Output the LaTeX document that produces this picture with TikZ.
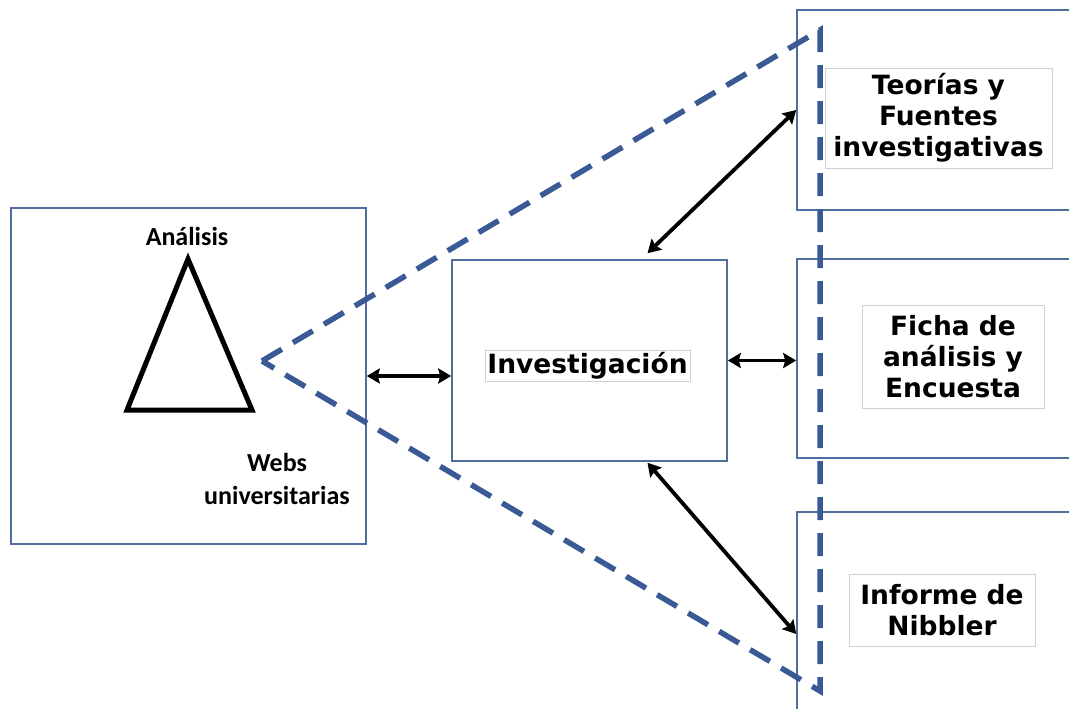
\documentclass[tikz,border=0pt]{standalone}
\usepackage{fontspec}
\setmainfont{DejaVu Sans}
\newfontfamily\carlito{Carlito}
\usetikzlibrary{arrows.meta,calc}
\definecolor{boxblue}{HTML}{4E6E9E}
\definecolor{dashblue}{HTML}{3A5A96}
\definecolor{framegray}{HTML}{D0D0D0}
\begin{document}
\begin{tikzpicture}[x=1pt,y=-1pt,
  bigbox/.style={draw=boxblue,line width=1.6pt,rectangle,inner sep=0pt},
  txtframe/.style={draw=framegray,line width=0.8pt,rectangle,inner sep=0pt,fill=white},
  boldtxt/.style={font=\fontsize{26.5}{31}\selectfont\bfseries,align=center,inner sep=0pt},
  sidetxt/.style={font=\carlito\fontsize{26}{33}\selectfont\bfseries,align=center,inner sep=0pt},
  dbl/.style={line width=3.8pt,{Stealth[length=13pt,width=15pt,inset=2pt]}-{Stealth[length=13pt,width=15pt,inset=2pt]}},
  dashline/.style={draw=dashblue,line width=5.5pt,dash pattern=on 23pt off 13pt}
]
\useasboundingbox (0,0) rectangle (1069,709);
\clip (0,0) rectangle (1069,709);
\fill[white] (0,0) rectangle (1069,709);

% boxes
\node[bigbox,minimum width=355pt,minimum height=336pt] (left) at (188.5,376) {};
\node[bigbox,minimum width=275pt,minimum height=201pt] (inv) at (589.5,360.5) {};
\node[bigbox,minimum width=283pt,minimum height=200pt] (r1) at (938.5,110) {};
\node[bigbox,minimum width=283pt,minimum height=199pt] (r2) at (938.5,358.5) {};
\node[bigbox,minimum width=283pt,minimum height=208pt] (r3) at (938.5,616) {};

% dashed triangle
\coordinate (apex) at (262,361);
\coordinate (tc) at (820,30);
\coordinate (bc) at (820,691);
\draw[dashline] (apex) -- (tc) -- (bc) -- cycle;

% text frames
\node[txtframe,minimum width=227pt,minimum height=100pt] (f1) at (938.5,118) {};
\node[txtframe,minimum width=182pt,minimum height=103pt] (f2) at (953,356.5) {};
\node[txtframe,minimum width=186pt,minimum height=72pt] (f3) at (942,610) {};
\node[txtframe,minimum width=205pt,minimum height=31pt] (finv) at (587.5,365.5) {};

\node[boldtxt] (t1) at (f1) {Teorías y\\Fuentes\\investigativas};
\node[boldtxt] (t2) at (f2) {Ficha de\\análisis y\\Encuesta};
\node[boldtxt] (t3) at (f3) {Informe de\\Nibbler};
\node[boldtxt] (tinv) at (finv) {Investigación};

% left content
\coordinate (ta) at (188,259);
\coordinate (tl) at (127,410);
\coordinate (tr) at (252,410);
\draw[line width=5pt,line join=miter] (ta) -- (tl) -- (tr) -- cycle;
\node[sidetxt] (anal) at (187,236) {Análisis};
\node[sidetxt] (webs) at (277,479) {Webs\\universitarias};

% arrows
\draw[dbl] (left.east) -- (left.east -| inv.west);
\draw[dbl] (inv.east) -- (inv.east -| r2.west);
\draw[dbl] ([xshift=58pt,yshift=6pt]inv.north) -- (r1.west);
\draw[dbl] ([xshift=58pt,yshift=-1pt]inv.south) -- ([yshift=-18pt]r3.west);
\end{tikzpicture}
\end{document}
